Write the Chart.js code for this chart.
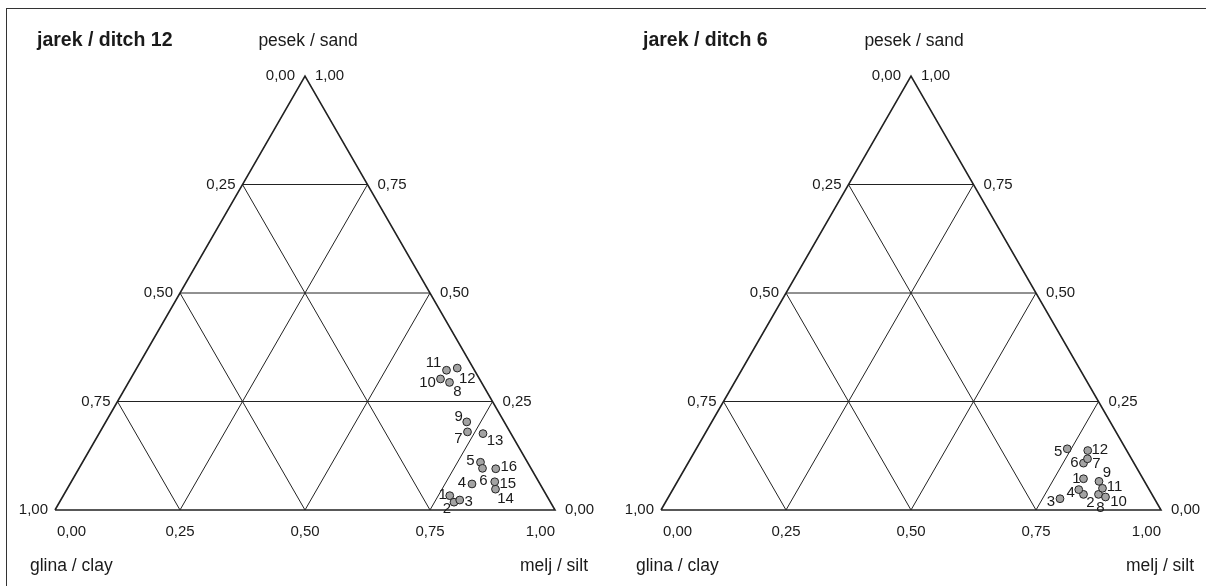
<!DOCTYPE html>
<html>
<head>
<meta charset="utf-8">
<script src="https://cdn.jsdelivr.net/npm/chart.js@4.4.1/dist/chart.umd.min.js"></script>
<style>
  html, body { margin: 0; padding: 0; background: #fff; }
  #wrap { position: relative; width: 1206px; height: 586px; overflow: hidden; }
  #frame { position: absolute; left: 6px; top: 8px; width: 1210px; height: 590px;
           border-top: 1.5px solid #333; border-left: 1.5px solid #333; }
  canvas { position: absolute; top: 0; }
</style>
</head>
<body>
<div id="wrap">
  <div id="frame"></div>
  <canvas id="ditch12" width="603" height="586" style="left:0"></canvas>
  <canvas id="ditch6" width="603" height="586" style="left:603px"></canvas>
</div>
<script>
const FONT = '"Liberation Sans", Arial, Helvetica, sans-serif';

// axis ticks shared by all three sides
const tickValues = [0, 0.25, 0.5, 0.75, 1];
const tickLabels = ['0,00', '0,25', '0,50', '0,75', '1,00'];
const gridSteps = [0.25, 0.5, 0.75];
const sandName = 'pesek / sand';
const siltName = 'melj / silt';
const clayName = 'glina / clay';

// jarek / ditch 12 – sample fractions (sand, silt, clay)
const ditch12Title = 'jarek / ditch 12';
const ditch12Ids  = ['1', '2', '3', '4', '5', '6', '7', '8', '9', '10', '11', '12', '13', '14', '15', '16'];
const ditch12Sand = [0.033, 0.018, 0.023, 0.060, 0.110, 0.096, 0.180, 0.294, 0.203, 0.302, 0.322, 0.327, 0.176, 0.048, 0.065, 0.095];
const ditch12Silt = [0.773, 0.789, 0.798, 0.804, 0.796, 0.807, 0.735, 0.642, 0.722, 0.620, 0.622, 0.641, 0.768, 0.857, 0.847, 0.834];
const ditch12Clay = [0.194, 0.193, 0.179, 0.136, 0.094, 0.097, 0.085, 0.064, 0.075, 0.078, 0.056, 0.032, 0.056, 0.095, 0.088, 0.071];

// jarek / ditch 6
const ditch6Title = 'jarek / ditch 6';
const ditch6Ids  = ['1', '2', '3', '4', '5', '6', '7', '8', '9', '10', '11', '12'];
const ditch6Sand = [0.072, 0.036, 0.026, 0.047, 0.141, 0.108, 0.118, 0.036, 0.066, 0.030, 0.050, 0.137];
const ditch6Silt = [0.809, 0.827, 0.785, 0.812, 0.742, 0.791, 0.794, 0.857, 0.843, 0.874, 0.858, 0.785];
const ditch6Clay = [0.119, 0.137, 0.189, 0.141, 0.117, 0.101, 0.088, 0.107, 0.091, 0.096, 0.092, 0.078];

// where each sample number sits relative to its dot (px)
const ditch12LabelOffsets = [[-7, -1], [-7, 7], [9, 2], [-10, -1], [-10, -1], [1, 13], [-9, 7], [8, 9],
                             [-8, -5], [-13, 4], [-13, -7], [10, 11], [12, 7], [10, 10], [13, 2], [13, -2]];
const ditch6LabelOffsets = [[-7, 0], [7, 8], [-9, 3], [-8, 3], [-9, 3], [-9, 0], [9, 5], [2, 13],
                            [8, -8], [13, 5], [12, -1], [12, -1]];

// ternary (sand, silt) -> cartesian, sand on the vertical
const toXY = (sand, silt) => ({ x: silt + sand / 2, y: sand });

function segment(points, width) {
  return {
    type: 'scatter',
    data: points.map(([sand, silt]) => toXY(sand, silt)),
    showLine: true,
    borderColor: '#222',
    borderWidth: width,
    pointRadius: 0,
    fill: false,
    order: 2
  };
}

const ternaryText = {
  id: 'ternaryText',
  afterDatasetsDraw(chart, args, opts) {
    const { ctx } = chart;
    const xs = chart.scales.x;
    const ys = chart.scales.y;
    const px = (sand, silt) => {
      const p = toXY(sand, silt);
      return [xs.getPixelForValue(p.x), ys.getPixelForValue(p.y)];
    };
    const text = (str, x, y, align, font) => {
      ctx.font = font || '15px ' + FONT;
      ctx.textAlign = align;
      ctx.textBaseline = 'middle';
      ctx.fillText(str, x, y);
    };

    ctx.save();
    ctx.fillStyle = '#1a1a1a';

    tickValues.forEach((t, i) => {
      // bottom side: silt
      const [bx, by] = px(0, t);
      const align = t === 0 ? 'left' : t === 1 ? 'right' : 'center';
      text(tickLabels[i], bx + (t === 0 ? 2 : 0), by + 22, align);
      // left side: clay
      const [lx, ly] = px(1 - t, 0);
      text(tickLabels[i], lx - (t === 0 ? 10 : 7), ly, 'right');
      // right side: sand
      const [rx, ry] = px(t, 1 - t);
      text(tickLabels[i], rx + 10, ry, 'left');
    });

    const [ax] = px(1, 0);
    const [cx] = px(0, 0);
    const [sx] = px(0, 1);
    text(sandName, ax + 3, 41, 'center', '17.5px ' + FONT);
    text(clayName, cx - 25, 566, 'left', '17.5px ' + FONT);
    text(siltName, sx + 33, 566, 'right', '17.5px ' + FONT);
    text(opts.title, cx - 18, 41, 'left', 'bold 19.5px ' + FONT);

    const meta = chart.getDatasetMeta(chart.data.datasets.length - 1);
    meta.data.forEach((pt, i) => {
      const [dx, dy] = opts.offsets[i];
      text(opts.ids[i], pt.x + dx, pt.y + dy, 'center');
    });
    ctx.restore();
  }
};

function buildTernary(canvasId, title, ids, sand, silt, clay, offsets, padLeft, padRight) {
  const datasets = [];
  gridSteps.forEach(k => {
    datasets.push(segment([[k, 0], [k, 1 - k]], 1));          // sand = k
    datasets.push(segment([[0, k], [1 - k, k]], 1));          // silt = k
    datasets.push(segment([[0, 1 - k], [1 - k, 0]], 1));      // clay = k
  });
  datasets.push(segment([[0, 0], [0, 1], [1, 0], [0, 0]], 1.6));

  datasets.push({
    type: 'scatter',
    label: title,
    data: sand.map((s, i) => ({ ...toXY(s, silt[i]), clay: clay[i] })),
    pointRadius: 3.9,
    pointBackgroundColor: '#a3a3a3',
    pointBorderColor: '#222',
    pointBorderWidth: 1,
    order: 1
  });

  return new Chart(document.getElementById(canvasId), {
    type: 'scatter',
    data: { datasets },
    options: {
      responsive: false,
      animation: false,
      events: [],
      layout: { padding: { left: padLeft, right: padRight, top: 32.6, bottom: 32.6 } },
      scales: {
        x: { type: 'linear', min: -0.08, max: 1.08, display: false },
        y: { type: 'linear', min: -0.1, max: 1.1, display: false }
      },
      plugins: {
        legend: { display: false },
        tooltip: { enabled: false },
        ternaryText: { title, ids, offsets }
      }
    },
    plugins: [ternaryText]
  });
}

buildTernary('ditch12', ditch12Title, ditch12Ids, ditch12Sand, ditch12Silt, ditch12Clay, ditch12LabelOffsets, 15, 8);
buildTernary('ditch6', ditch6Title, ditch6Ids, ditch6Sand, ditch6Silt, ditch6Clay, ditch6LabelOffsets, 18, 5);
</script>
</body>
</html>
